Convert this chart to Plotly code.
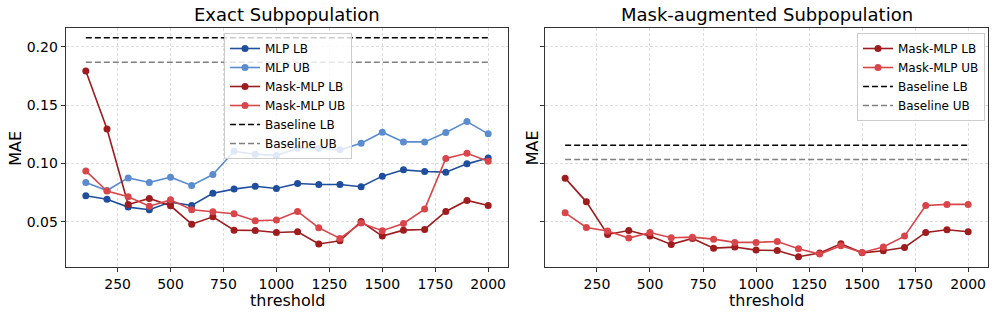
import plotly.graph_objects as go

thresholds = [100, 200, 300, 400, 500, 600, 700, 800, 900, 1000,
              1100, 1200, 1300, 1400, 1500, 1600, 1700, 1800, 1900, 2000]

# Exact Subpopulation
exact_mlp_lb = [0.0724, 0.0695, 0.0627, 0.0604, 0.0670, 0.0641, 0.0746, 0.0781, 0.0806, 0.0786,
                0.0829, 0.0821, 0.0821, 0.0801, 0.0892, 0.0946, 0.0932, 0.0926, 0.0997, 0.1048]
exact_mlp_ub = [0.0838, 0.0769, 0.0877, 0.0838, 0.0883, 0.0812, 0.0906, 0.1105, 0.1080, 0.1068,
                0.1131, 0.1128, 0.1117, 0.1174, 0.1268, 0.1185, 0.1185, 0.1265, 0.1359, 0.1254]
exact_mask_lb = [0.1792, 0.1296, 0.0650, 0.0701, 0.0638, 0.0481, 0.0544, 0.0430, 0.0427, 0.0410,
                 0.0416, 0.0311, 0.0339, 0.0504, 0.0379, 0.0430, 0.0436, 0.0590, 0.0684, 0.0641]
exact_mask_ub = [0.0937, 0.0764, 0.0715, 0.0635, 0.0689, 0.0604, 0.0587, 0.0570, 0.0510, 0.0516,
                 0.0590, 0.0450, 0.0359, 0.0490, 0.0425, 0.0487, 0.0610, 0.1043, 0.1088, 0.1020]
exact_baseline_lb = 0.2077
exact_baseline_ub = 0.1866

# Mask-augmented Subpopulation
aug_mask_lb = [0.0875, 0.0672, 0.0393, 0.0427, 0.0379, 0.0308, 0.0359, 0.0276, 0.0285, 0.0259,
               0.0256, 0.0202, 0.0234, 0.0313, 0.0236, 0.0254, 0.0282, 0.0410, 0.0433, 0.0416]
aug_mask_ub = [0.0578, 0.0453, 0.0422, 0.0362, 0.0410, 0.0365, 0.0370, 0.0353, 0.0325, 0.0325,
               0.0333, 0.0271, 0.0225, 0.0296, 0.0239, 0.0285, 0.0379, 0.0641, 0.0650, 0.0650]
aug_baseline_lb = 0.1157
aug_baseline_ub = 0.1034

x_ticks = [250, 500, 750, 1000, 1250, 1500, 1750, 2000]
y_ticks = [0.05, 0.10, 0.15, 0.20]

C_MLP_LB = "#1f4e9e"
C_MLP_UB = "#5a8ccf"
C_MASK_LB = "#9e1b1e"
C_MASK_UB = "#d9464a"

W, H = 996, 316
FONT = "DejaVu Sans"

def px(xp):  # pixel x -> paper fraction
    return xp / W

def py(yp):  # pixel y (from top) -> paper fraction
    return 1 - yp / H

fig = go.Figure()

def series(x, y, name, color, xa, ya, legend):
    fig.add_trace(go.Scatter(
        x=x, y=y, name=name, mode="lines+markers",
        line=dict(color=color, width=1.6),
        marker=dict(color=color, size=7, symbol="circle"),
        xaxis=xa, yaxis=ya, legend=legend))

def baseline(val, name, color, xa, ya, legend):
    fig.add_trace(go.Scatter(
        x=[thresholds[0], thresholds[-1]], y=[val, val], name=name, mode="lines",
        line=dict(color=color, width=1.5, dash="6px,3px"),
        xaxis=xa, yaxis=ya, legend=legend))

series(thresholds, exact_mlp_lb, "MLP LB", C_MLP_LB, "x", "y", "legend")
series(thresholds, exact_mlp_ub, "MLP UB", C_MLP_UB, "x", "y", "legend")
series(thresholds, exact_mask_lb, "Mask-MLP LB", C_MASK_LB, "x", "y", "legend")
series(thresholds, exact_mask_ub, "Mask-MLP UB", C_MASK_UB, "x", "y", "legend")
baseline(exact_baseline_lb, "Baseline LB", "black", "x", "y", "legend")
baseline(exact_baseline_ub, "Baseline UB", "gray", "x", "y", "legend")

series(thresholds, aug_mask_lb, "Mask-MLP LB", C_MASK_LB, "x2", "y2", "legend2")
series(thresholds, aug_mask_ub, "Mask-MLP UB", C_MASK_UB, "x2", "y2", "legend2")
baseline(aug_baseline_lb, "Baseline LB", "black", "x2", "y2", "legend2")
baseline(aug_baseline_ub, "Baseline UB", "gray", "x2", "y2", "legend2")

left_dom = [px(65.7), px(508.3)]
right_dom = [px(545.0), px(988.3)]
y_dom = [py(267.3), py(28.3)]

axis_common = dict(
    showline=True, mirror=True, linecolor="#333333", linewidth=1.2,
    ticks="outside", ticklen=4, tickwidth=1, tickcolor="#333333",
    showgrid=True, gridcolor="rgba(190,190,190,0.5)", griddash="3px,2px", gridwidth=0.8,
    zeroline=False, automargin=False,
    tickfont=dict(family=FONT, size=14, color="black"),
)

legend_common = dict(
    xanchor="left", yanchor="top",
    bgcolor="rgba(255,255,255,0.8)", bordercolor="#cccccc", borderwidth=1,
    font=dict(family=FONT, size=12, color="black"), tracegroupgap=0,
)

fig.update_layout(
    width=W, height=H,
    margin=dict(l=0, r=0, t=0, b=0),
    paper_bgcolor="white", plot_bgcolor="white",
    font=dict(family=FONT, color="black"),
    hovermode=False,
    xaxis=dict(domain=left_dom, range=[5, 2095], tickvals=x_ticks, anchor="y", **axis_common),
    yaxis=dict(domain=y_dom, range=[0.0112, 0.2157], tickvals=y_ticks, tickformat=".2f",
               anchor="x", **axis_common),
    xaxis2=dict(domain=right_dom, range=[5, 2095], tickvals=x_ticks, anchor="y2", **axis_common),
    yaxis2=dict(domain=y_dom, range=[0.0112, 0.2157], tickvals=y_ticks, matches="y",
                showticklabels=False, anchor="x2", **axis_common),
    legend=dict(x=px(224), y=py(33), **legend_common),
    legend2=dict(x=px(857), y=py(33), **legend_common),
    showlegend=True,
)

def ann(text, x, y, size, angle=0):
    fig.add_annotation(text=text, x=x, y=y, xref="paper", yref="paper",
                       xanchor="center", yanchor="middle", showarrow=False,
                       textangle=angle, borderpad=0,
                       font=dict(family=FONT, size=size, color="black"))

ann("Exact Subpopulation", (left_dom[0] + left_dom[1]) / 2, py(14), 18)
ann("Mask-augmented Subpopulation", (right_dom[0] + right_dom[1]) / 2, py(14), 18)
ann("threshold", (left_dom[0] + left_dom[1]) / 2, py(300), 16)
ann("threshold", (right_dom[0] + right_dom[1]) / 2, py(300), 16)
ann("MAE", px(16), (y_dom[0] + y_dom[1]) / 2, 16, -90)
ann("MAE", px(532.5), (y_dom[0] + y_dom[1]) / 2, 16, -90)

# remove the browser's default 8px body margin so the figure fills the window exactly
fig.write_html("out.html", config={"displayModeBar": False},
               post_script="document.body.style.margin='0';")
